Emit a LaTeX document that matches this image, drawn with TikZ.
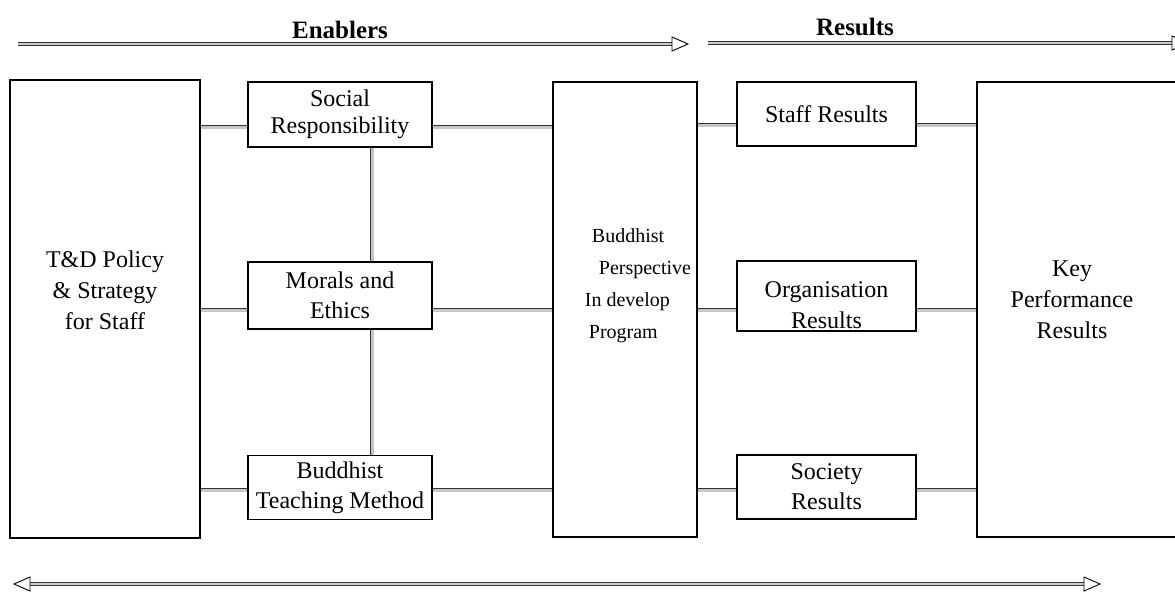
\documentclass[tikz,border=0pt]{standalone}
\usepackage{fontspec}
\setmainfont{Liberation Serif}
\begin{document}
\begin{tikzpicture}[x=1pt,y=-1pt,
  box/.style={draw, line width=1.6pt, inner sep=0pt, align=center, font=\fontsize{24}{30}\selectfont},
  txt/.style={inner sep=0pt, align=center, font=\fontsize{24}{31}\selectfont},
  conn/.style={draw=black!80, line width=0.6pt, double=gray!45, double distance=3pt},
  shaft/.style={draw=black!80, line width=0.6pt, double=gray!40, double distance=2.2pt},
  head/.style={draw, line width=0.9pt, fill=white, line join=miter},
  heading/.style={inner sep=0pt, font=\bfseries\fontsize{25}{30}\selectfont}]
\useasboundingbox (0,0) rectangle (1175,592);
% boxes
\node[box, minimum width=190pt, minimum height=458pt] (L) at (105,309) {};
\node[txt] (Ltxt) at (105,290) {T\&D Policy\\\& Strategy\\for Staff};
\node[box, minimum width=184pt, minimum height=65pt] (S) at (340,114.5) {Social\\[-3pt]Responsibility};
\node[box, minimum width=184pt, minimum height=67pt] (M) at (340,295.5) {Morals and\\Ethics};
\node[box, minimum width=184pt, minimum height=64pt] (T) at (340,487.5) {Buddhist\\Teaching Method};
\node[box, minimum width=144pt, minimum height=455pt] (P) at (625,309.5) {};
\node[inner sep=0pt, align=left, font=\fontsize{20}{32}\selectfont] (Ptxt) at (638,286)
  {\hspace*{7pt}Buddhist\\\hspace*{14pt}Perspective\\In develop\\\hspace*{4pt}Program};
\node[box, minimum width=179pt, minimum height=64pt] (SR) at (826.5,114) {Staff Results};
\node[box, minimum width=179pt, minimum height=70pt] (OR) at (826.5,296) {};
\node[txt] (ORtxt) at (826.5,305) {Organisation\\Results};
\node[box, minimum width=179pt, minimum height=64pt] (SoR) at (826.5,487) {Society\\Results};
\node[box, minimum width=202pt, minimum height=455pt] (K) at (1078,309.5) {};
\node[txt] (Ktxt) at (1072,300) {Key\\Performance\\Results};
% connectors
\draw[conn] (L.east |- 0,127) -- (S.west |- 0,127);
\draw[conn] (L.east |- 0,310) -- (M.west |- 0,310);
\draw[conn] (L.east |- 0,490) -- (T.west |- 0,490);
\draw[conn] (S.south -| 372,0) -- (M.north -| 372,0);
\draw[conn] (M.south -| 372,0) -- (T.north -| 372,0);
\draw[conn] (S.east |- 0,127) -- (P.west |- 0,127);
\draw[conn] (M.east |- 0,310) -- (P.west |- 0,310);
\draw[conn] (T.east |- 0,490) -- (P.west |- 0,490);
\draw[conn] (P.east |- 0,125) -- (SR.west |- 0,125);
\draw[conn] (P.east |- 0,310) -- (OR.west |- 0,310);
\draw[conn] (P.east |- 0,490) -- (SoR.west |- 0,490);
\draw[conn] (SR.east |- 0,125) -- (K.west |- 0,125);
\draw[conn] (OR.east |- 0,310) -- (K.west |- 0,310);
\draw[conn] (SoR.east |- 0,490) -- (K.west |- 0,490);
% headings
\node[heading] (En) at (340,30) {Enablers};
\node[heading] (Re) at (855,27) {Results};
% top arrows
\coordinate (a1s) at (18,44);
\coordinate (a1b) at (673,44);
\coordinate (a1t) at (688,44);
\draw[shaft] (a1s) -- (a1b);
\draw[head] (a1t) -- ++(-16,-7) -- ++(0,14) -- cycle;
\coordinate (a2s) at (708,43);
\coordinate (a2b) at (1172,43);
\coordinate (a2t) at (1188,43);
\draw[shaft] (a2s) -- (a2b);
\draw[head] (a2t) -- ++(-16,-7) -- ++(0,14) -- cycle;
% bottom arrow
\coordinate (b1t) at (14,584);
\coordinate (b1l) at (30,584);
\coordinate (b1r) at (1084,584);
\coordinate (b1u) at (1100,584);
\draw[shaft] (b1l) -- (b1r);
\draw[head] (b1t) -- ++(16,-7) -- ++(0,14) -- cycle;
\draw[head] (b1u) -- ++(-16,-7) -- ++(0,14) -- cycle;
\end{tikzpicture}
\end{document}
